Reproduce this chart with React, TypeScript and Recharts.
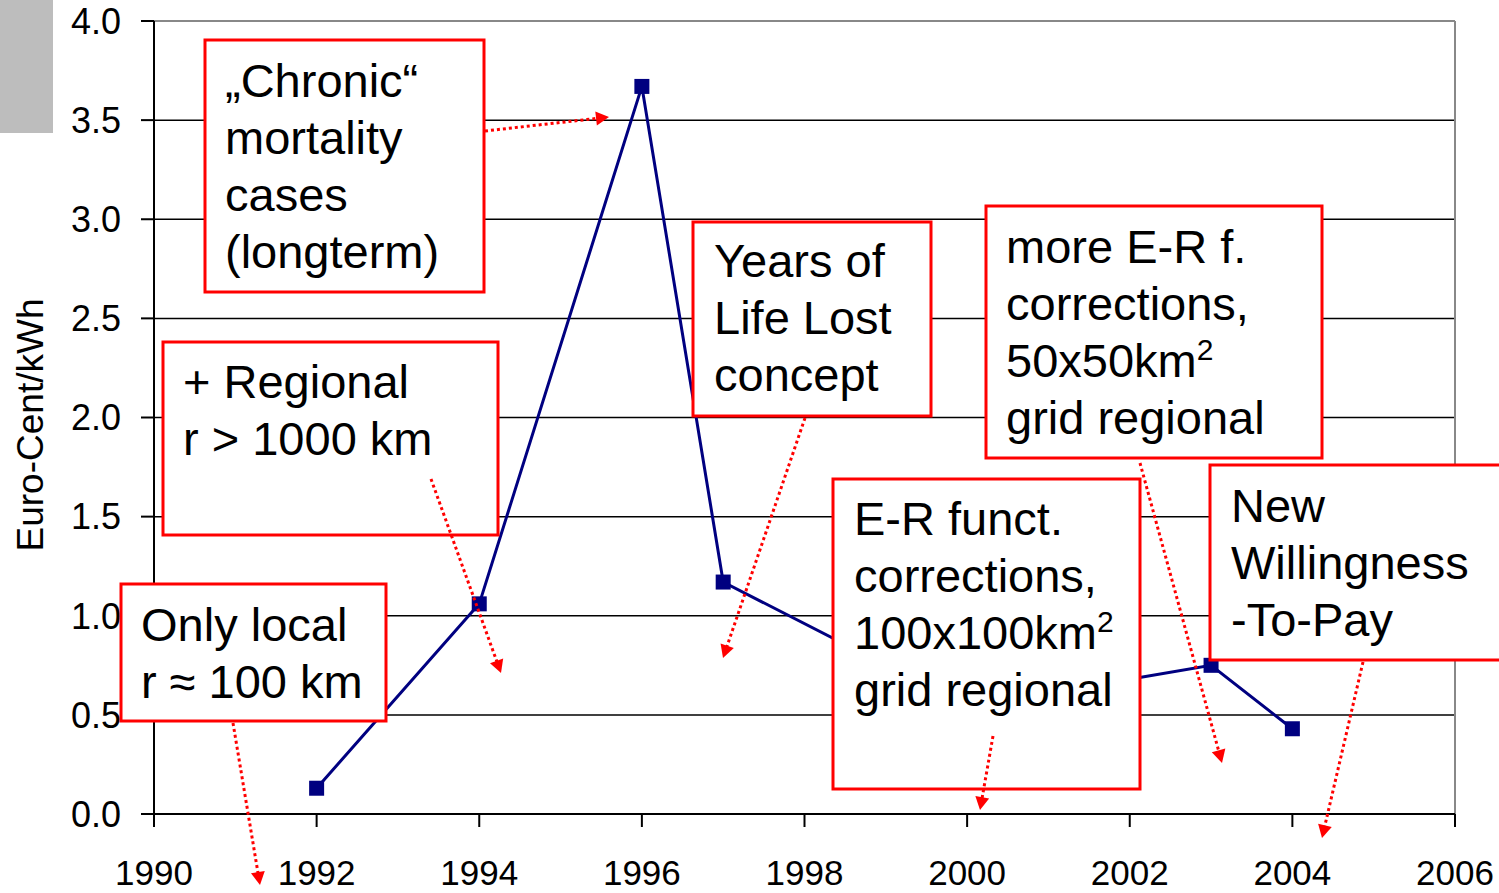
import React from 'react';
import { LineChart, Line, XAxis, YAxis, CartesianGrid, ReferenceLine } from 'recharts';

// ---- data ----
const years = [1992, 1994, 1996, 1997, 2000, 2003, 2004];
const costs = [0.13, 1.06, 3.67, 1.17, 0.54, 0.75, 0.43];
const xTicks = [1990, 1992, 1994, 1996, 1998, 2000, 2002, 2004, 2006];
const yTicks = [0, 0.5, 1, 1.5, 2, 2.5, 3, 3.5, 4];
const yAxisTitle = 'Euro-Cent/kWh';

const noteChronic = ['\u201EChronic\u201C', 'mortality', 'cases', '(longterm)'];
const noteRegional = ['+ Regional', 'r > 1000 km'];
const noteLocal = ['Only local', 'r \u2248 100 km'];
const noteYoll = ['Years of', 'Life Lost', 'concept'];
const noteMoreER = ['more E-R f.', 'corrections,', '50x50km\u00B2', 'grid regional'];
const noteER = ['E-R funct.', 'corrections,', '100x100km\u00B2', 'grid regional'];
const noteWtp = ['New', 'Willingness', '-To-Pay'];

const chartData = years.map((y, i) => ({ year: y, cost: costs[i] }));

// ---- annotation layout (overlay geometry) ----
type Box = { lines: string[]; x: number; y: number; w: number; h: number; tx: number; ty: number };
const boxes: Box[] = [
  { lines: noteChronic, x: 205, y: 40, w: 279, h: 252, tx: 225, ty: 97 },
  { lines: noteRegional, x: 163, y: 342, w: 335, h: 193, tx: 183, ty: 398 },
  { lines: noteLocal, x: 121, y: 584, w: 265, h: 137, tx: 141, ty: 641 },
  { lines: noteYoll, x: 693, y: 222, w: 238, h: 194, tx: 714, ty: 277 },
  { lines: noteMoreER, x: 986, y: 206, w: 336, h: 252, tx: 1006, ty: 263 },
  { lines: noteER, x: 833, y: 479, w: 307, h: 310, tx: 854, ty: 535 },
  { lines: noteWtp, x: 1210, y: 465, w: 320, h: 195, tx: 1231, ty: 522 },
];
const arrows = [
  [485, 131, 609, 117],
  [431, 479, 501, 673],
  [233, 723, 260, 885],
  [805, 418, 723, 658],
  [1140, 463, 1222, 763],
  [993, 736, 980, 810],
  [1363, 662, 1322, 838],
];

const FONT = '"Liberation Sans", Arial, Helvetica, sans-serif';

const SquareDot = (props: any) => {
  const { cx, cy } = props;
  if (cx == null || cy == null) return null;
  return <rect x={cx - 7.5} y={cy - 7.5} width={15} height={15} fill="#000080" />;
};

const Arrow = ({ a }: { a: number[] }) => {
  const [x1, y1, x2, y2] = a;
  const dx = x2 - x1, dy = y2 - y1;
  const len = Math.sqrt(dx * dx + dy * dy);
  const ux = dx / len, uy = dy / len;
  const hl = 13, hw = 7;
  const bx = x2 - ux * hl, by = y2 - uy * hl;
  const pts = `${x2},${y2} ${bx - uy * hw},${by + ux * hw} ${bx + uy * hw},${by - ux * hw}`;
  return (
    <g>
      <line x1={x1} y1={y1} x2={bx + ux * 2} y2={by + uy * 2} stroke="#ff0000" strokeWidth={3} strokeDasharray="3 3" />
      <polygon points={pts} fill="#ff0000" />
    </g>
  );
};

const renderLine = (l: string) => {
  if (l.endsWith('\u00B2')) {
    return (
      <>
        {l.slice(0, -1)}
        <tspan fontSize={30} dy={-17}>2</tspan>
      </>
    );
  }
  return l;
};

export default function App() {
  return (
    <div style={{ position: 'absolute', left: 0, top: 0, width: 1499, height: 893, background: '#fff', overflow: 'hidden' }}>
      <LineChart width={1499} height={893} data={chartData} margin={{ top: 21, right: 44, bottom: 0, left: 0 }}>
        <CartesianGrid vertical={false} stroke="#000" strokeWidth={1.5} />
        <XAxis
          type="number"
          dataKey="year"
          domain={[1990, 2006]}
          ticks={xTicks}
          interval={0}
          height={79}
          tickSize={13}
          tickMargin={33}
          stroke="#000"
          strokeWidth={2}
          tick={{ fontSize: 35, fill: '#000', fontFamily: FONT }}
        />
        <YAxis
          type="number"
          domain={[0, 4]}
          ticks={yTicks}
          interval={0}
          width={154}
          tickSize={13}
          tickMargin={20}
          stroke="#000"
          strokeWidth={2}
          tickFormatter={(v: number) => v.toFixed(1)}
          tick={{ fontSize: 36, fill: '#000', fontFamily: FONT }}
        />
        <ReferenceLine y={4} stroke="#888" strokeWidth={2} />
        <ReferenceLine x={2006} stroke="#888" strokeWidth={2} />
        <Line
          dataKey="cost"
          stroke="#000080"
          strokeWidth={3}
          dot={<SquareDot />}
          activeDot={false}
          isAnimationActive={false}
        />
      </LineChart>
      <svg width={1499} height={893} style={{ position: 'absolute', left: 0, top: 0, pointerEvents: 'none' }}>
        <rect x={0} y={0} width={53} height={133} fill="#bdbdbd" />
        <text
          transform="translate(43,425) rotate(-90)"
          textAnchor="middle"
          fontSize={37}
          fontFamily={FONT}
          fill="#000"
        >
          {yAxisTitle}
        </text>
        {boxes.map((b, i) => (
          <g key={i}>
            <rect x={b.x} y={b.y} width={b.w} height={b.h} fill="#fff" stroke="#ff0000" strokeWidth={3} />
            {b.lines.map((l, j) => (
              <text key={j} x={b.tx} y={b.ty + j * 57} fontSize={47} fontFamily={FONT} fill="#000">
                {renderLine(l)}
              </text>
            ))}
          </g>
        ))}
        {arrows.map((a, i) => (
          <Arrow key={i} a={a} />
        ))}
      </svg>
    </div>
  );
}
